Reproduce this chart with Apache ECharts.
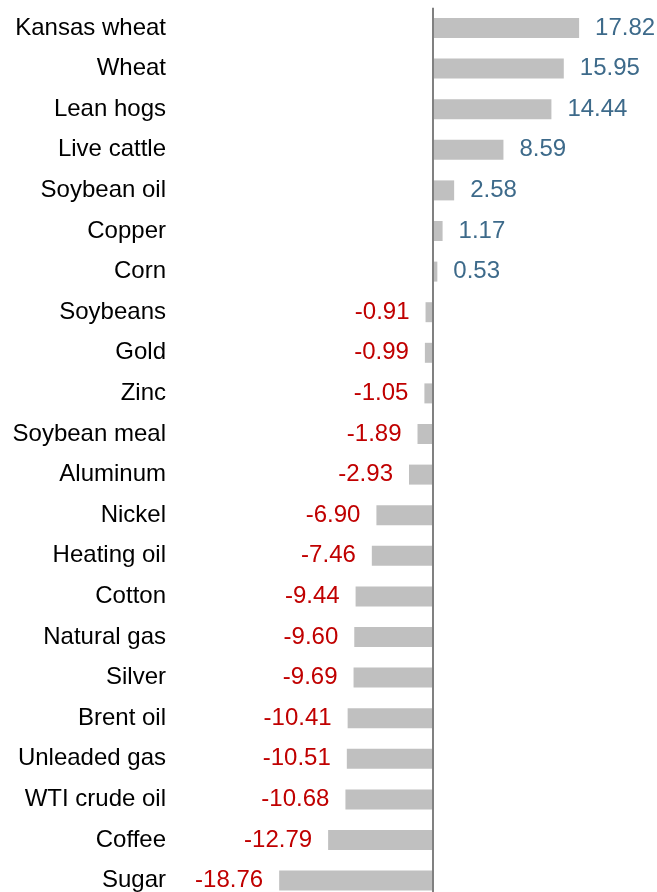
<!DOCTYPE html>
<html>
<head>
<meta charset="utf-8">
<script src="https://cdn.jsdelivr.net/npm/echarts@6/dist/echarts.min.js"></script>
<style>
  html, body { margin: 0; padding: 0; background: #fff; overflow: hidden; }
  /* 容器比窗口略高，让最后一行的带宽延伸到画面之外 */
  #chart { width: 657px; height: 910px; }
</style>
</head>
<body>
<div id="chart"></div>
<script>
// 品种与涨跌幅（%）
const categories = [
  'Kansas wheat', 'Wheat', 'Lean hogs', 'Live cattle', 'Soybean oil', 'Copper', 'Corn',
  'Soybeans', 'Gold', 'Zinc', 'Soybean meal', 'Aluminum', 'Nickel', 'Heating oil',
  'Cotton', 'Natural gas', 'Silver', 'Brent oil', 'Unleaded gas', 'WTI crude oil',
  'Coffee', 'Sugar'
];
const values = [
  17.82, 15.95, 14.44, 8.59, 2.58, 1.17, 0.53,
  -0.91, -0.99, -1.05, -1.89, -2.93, -6.90, -7.46,
  -9.44, -9.60, -9.69, -10.41, -10.51, -10.68,
  -12.79, -18.76
];

const POS_COLOR = '#3d6a8a';
const NEG_COLOR = '#c00000';
const FONT = '"Liberation Sans", Arial, sans-serif';

const chart = echarts.init(document.getElementById('chart'));

// 正值标签放右侧，负值标签放左侧
const seriesData = values.map(v => ({
  value: v,
  label: {
    position: v >= 0 ? 'right' : 'left',
    color: v >= 0 ? POS_COLOR : NEG_COLOR
  }
}));

const option = {
  animation: false,
  grid: {
    left: 269,
    right: 19,
    top: 7.7,
    height: 893.2
  },
  xAxis: {
    type: 'value',
    min: -20,
    max: 25,
    show: false
  },
  yAxis: {
    type: 'category',
    data: categories,
    inverse: true,
    axisLine: { show: false, onZero: false },
    axisTick: { show: false },
    axisLabel: {
      margin: 103,
      color: '#000',
      fontSize: 24,
      fontFamily: FONT
    }
  },
  series: [
    {
      type: 'bar',
      data: seriesData,
      barWidth: 20,
      itemStyle: { color: '#c0c0c0' },
      label: {
        show: true,
        distance: 16,
        fontSize: 24,
        fontFamily: FONT,
        formatter: p => p.value.toFixed(2)
      },
      markLine: {
        silent: true,
        symbol: 'none',
        label: { show: false },
        lineStyle: { color: '#808080', width: 2, type: 'solid' },
        data: [{ xAxis: 0 }]
      }
    }
  ]
};

chart.setOption(option);
</script>
</body>
</html>
